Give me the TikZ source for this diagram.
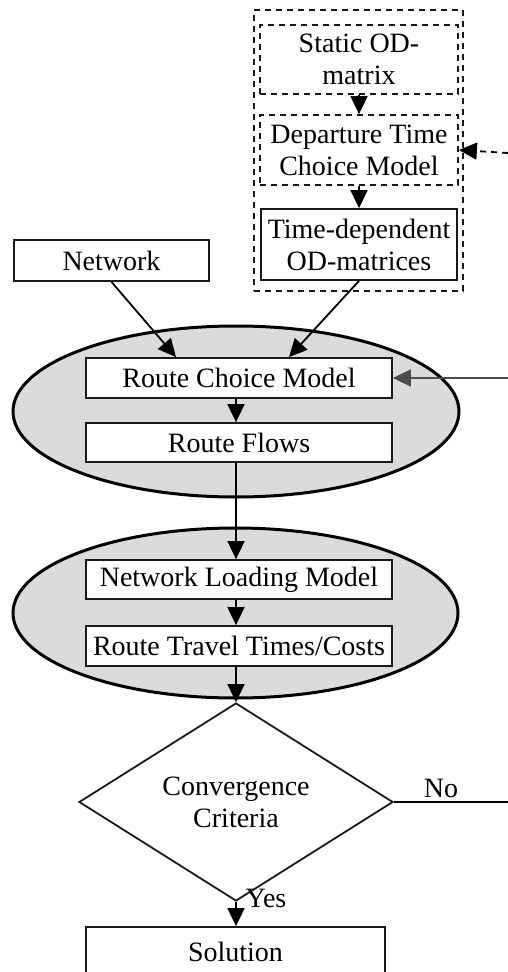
\documentclass[tikz,border=0pt]{standalone}
\usepackage{fontspec}
\setmainfont{Liberation Serif}
\usetikzlibrary{arrows.meta,shapes.geometric}
\begin{document}
\begin{tikzpicture}[x=1pt,y=-1pt,
  every node/.style={font=\fontsize{28}{32}\selectfont, align=center, inner sep=0pt},
  box/.style={draw=black!90, line width=1.8pt, fill=white, rectangle},
  dbox/.style={draw=black!90, line width=1.8pt, dash pattern=on 6pt off 5pt, rectangle},
  oval/.style={draw=black, line width=3pt, fill=black!14, ellipse},
  tip/.tip={Triangle[length=18pt,width=17pt]},
  arr/.style={line width=1.8pt, -tip},
  plain/.style={line width=1.8pt}]
\useasboundingbox (0,0) rectangle (508,972);
% ellipses
\node[oval, minimum width=446pt, minimum height=171pt] (e1) at (236,411.5) {};
\node[oval, minimum width=445pt, minimum height=170pt] (e2) at (235.5,613) {};
% top group
\node[dbox, minimum width=209pt, minimum height=281pt] (grp) at (358.5,150.5) {};
\node[dbox, minimum width=198pt, minimum height=69pt] (static) at (359,59.5) {Static OD-\\matrix};
\node[dbox, minimum width=198pt, minimum height=70pt] (dep) at (359,150) {Departure Time\\Choice Model};
\node[box, minimum width=196pt, minimum height=71pt] (td) at (359,244.5) {Time-dependent\\OD-matrices};
\node[box, minimum width=195pt, minimum height=41pt] (net) at (111.5,260.5) {Network};
% route choice
\node[box, minimum width=306pt, minimum height=40pt] (rcm) at (239,378) {Route Choice Model};
\node[box, minimum width=306pt, minimum height=39pt] (rf) at (239,442.5) {Route Flows};
\node[box, minimum width=306pt, minimum height=39pt] (nlm) at (239,579.5) {Network Loading Model};
\node[box, minimum width=306pt, minimum height=40pt] (rtt) at (239,646) {Route Travel Times/Costs};
% diamond
\node[draw=black!90, line width=1.8pt, diamond, minimum width=314pt, minimum height=156pt] (conv) at (236,802) {Convergence\\Criteria};
\node[box, minimum width=299pt, minimum height=50pt] (sol) at (235.5,952) {Solution};
% free ends
\coordinate (depin) at (508,153);
\coordinate (rcmin) at (508,378);
\coordinate (noend) at (508,802);
% connectors
\draw[arr] (static.south) -- (dep.north);
\draw[arr] (dep.south) -- (td.north);
\draw[line width=1.8pt, dash pattern=on 6pt off 5pt, -tip] (depin) -- (dep.east);
\draw[arr] (net.south) -- ([xshift=-63pt]rcm.north);
\draw[arr] (td.south) -- ([xshift=50pt]rcm.north);
\draw[arr, draw=black!70, fill=black] (rcmin) -- (rcm.east);
\draw[arr] (rcm.south -| conv.north) -- (rf.north -| conv.north);
\draw[arr] (rf.south -| conv.north) -- (nlm.north -| conv.north);
\draw[arr] (nlm.south -| conv.north) -- (rtt.north -| conv.north);
\draw[arr] (rtt.south -| conv.north) -- (conv.north);
\draw[plain] (conv.east) -- (noend);
\draw[arr] (conv.south) -- (sol.north -| conv.south);
% labels
\node[anchor=base] (no) at (441,797) {No};
\node[anchor=base] (yes) at (266,907) {Yes};
\end{tikzpicture}
\end{document}
